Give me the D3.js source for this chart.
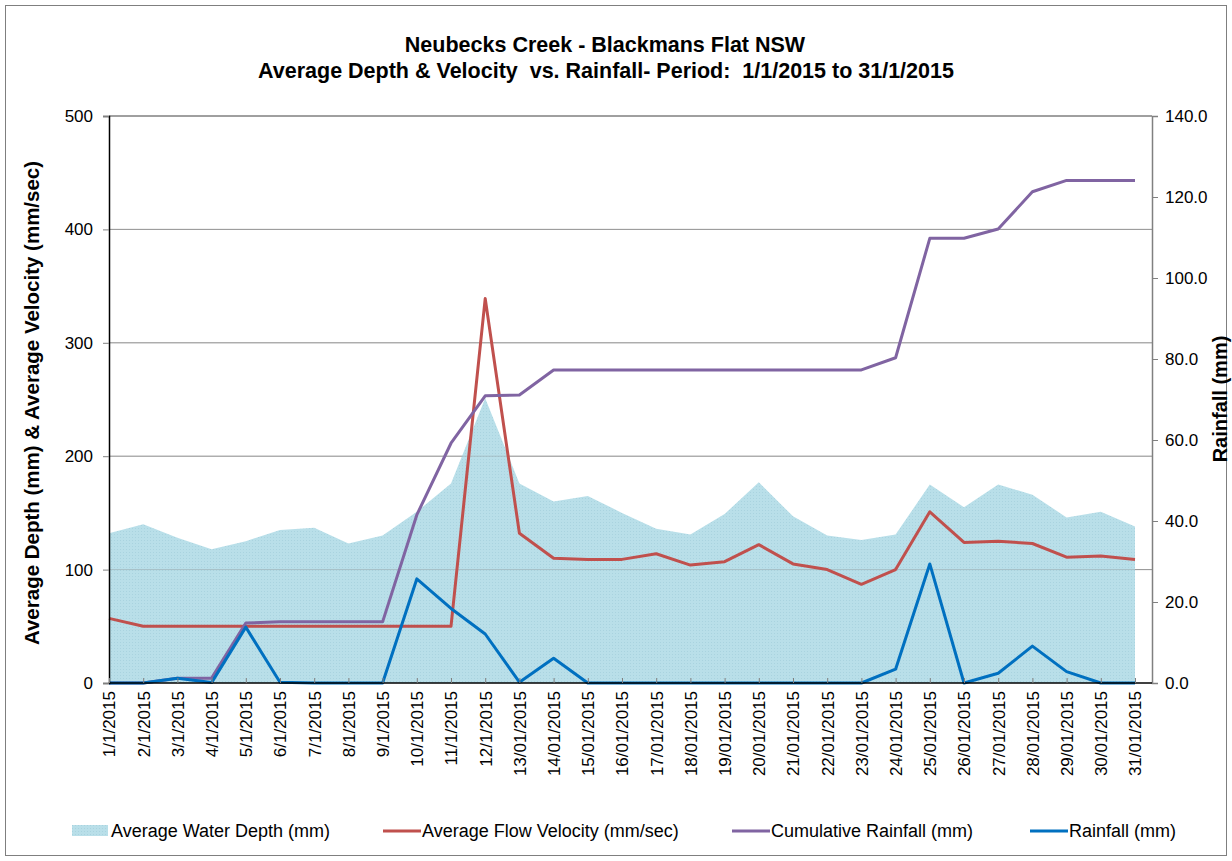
<!DOCTYPE html>
<html>
<head>
<meta charset="utf-8">
<script src="https://cdn.jsdelivr.net/npm/d3@7"></script>
<style>
  body { margin: 0; background: #fff; }
  svg { font-family: "Liberation Sans", Arial, sans-serif; }
</style>
</head>
<body>
<script>
// x labels (dates as written in the chart)
var dates = ["1/1/2015","2/1/2015","3/1/2015","4/1/2015","5/1/2015","6/1/2015","7/1/2015","8/1/2015","9/1/2015","10/1/2015","11/1/2015","12/1/2015",
  "13/01/2015","14/01/2015","15/01/2015","16/01/2015","17/01/2015","18/01/2015","19/01/2015","20/01/2015","21/01/2015","22/01/2015",
  "23/01/2015","24/01/2015","25/01/2015","26/01/2015","27/01/2015","28/01/2015","29/01/2015","30/01/2015","31/01/2015"];

// left axis series
var depth = [132,140,128,118,125,135,137,123,130,151,176,251,176,160,165,150,136,131,149,177,147,130,126,131,175,155,175,166,146,151,138];
var velocity = [57,50,50,50,50,50,50,50,50,50,50,339,132,110,109,109,114,104,107,122,105,100,87,100,151,124,125,123,111,112,109];

// right axis series
var cumRain = [0,0,1.2,1.2,14.8,15.1,15.1,15.1,15.1,41.5,59.2,70.9,71.1,77.3,77.3,77.3,77.3,77.3,77.3,77.3,77.3,77.3,77.3,80.3,109.8,109.8,112.1,121.3,124.1,124.1,124.1];
var rain = [0,0,1.2,0.1,13.8,0.2,0,0,0,25.7,18.4,12.1,0.2,6.1,0,0,0,0,0,0,0,0,0,3.4,29.4,0,2.4,9.1,2.8,0,0];

var leftTicks = [0,100,200,300,400,500];
var rightTicks = [0,20,40,60,80,100,120,140];

var W = 1232, H = 861;
var svg = d3.select("body").append("svg")
  .attr("width", W)
  .attr("height", H);

var plot = {left: 109, right: 1152, top: 116, bottom: 683};

// outer border
svg.append("rect")
  .attr("x", 5.5).attr("y", 5.5)
  .attr("width", W - 11).attr("height", H - 11)
  .attr("fill", "none")
  .attr("stroke", "#7f7f7f");

var x = d3.scalePoint()
  .domain(dates)
  .range([plot.left, 1135]);

var yL = d3.scaleLinear().domain([0, 500]).range([plot.bottom, plot.top]);
var yR = d3.scaleLinear().domain([0, 140]).range([plot.bottom, plot.top]);

// gridlines
svg.append("g")
  .selectAll("line")
  .data(leftTicks.slice(1, -1))
  .enter()
  .append("line")
  .attr("x1", plot.left).attr("x2", plot.right)
  .attr("y1", function(d) { return yL(d); })
  .attr("y2", function(d) { return yL(d); })
  .attr("stroke", "#a0a0a0")
  .attr("stroke-width", 1);

// top border of plot area
svg.append("line")
  .attr("x1", plot.left).attr("x2", plot.right)
  .attr("y1", plot.top).attr("y2", plot.top)
  .attr("stroke", "#404040");

// dotted pattern for area
var defs = svg.append("defs");
var pat = defs.append("pattern")
  .attr("id", "dots")
  .attr("width", 3).attr("height", 3)
  .attr("patternUnits", "userSpaceOnUse");
pat.append("rect").attr("width", 3).attr("height", 3).attr("fill", "#b9dfe9");
pat.append("rect").attr("width", 1).attr("height", 1).attr("fill", "#a9d3df");

// area: average water depth
var area = d3.area()
  .x(function(d, i) { return x(dates[i]); })
  .y0(yL(0))
  .y1(function(d) { return yL(d); });

svg.append("path")
  .datum(depth)
  .attr("d", area)
  .attr("fill", "url(#dots)");

// gridlines slightly visible over area
svg.append("g")
  .selectAll("line")
  .data(leftTicks.slice(1, -1))
  .enter()
  .append("line")
  .attr("x1", plot.left).attr("x2", plot.right)
  .attr("y1", function(d) { return yL(d); })
  .attr("y2", function(d) { return yL(d); })
  .attr("stroke", "#808080")
  .attr("stroke-opacity", 0.35);

// lines
function drawLine(values, scale, color) {
  var line = d3.line()
    .x(function(d, i) { return x(dates[i]); })
    .y(function(d) { return scale(d); });
  svg.append("path")
    .datum(values)
    .attr("d", line)
    .attr("fill", "none")
    .attr("stroke", color)
    .attr("stroke-width", 3)
    .attr("stroke-linejoin", "round");
}

drawLine(velocity, yL, "#c0504d");
drawLine(cumRain, yR, "#8064a2");
drawLine(rain, yR, "#0070c0");

// left axis
var gL = svg.append("g")
  .attr("transform", "translate(" + plot.left + ",0)")
  .call(d3.axisLeft(yL).tickValues(leftTicks).tickSize(6).tickPadding(10));
gL.select(".domain").attr("stroke", "#000").attr("stroke-width", 1.5);
gL.selectAll(".tick line").attr("stroke", "#808080");
gL.selectAll(".tick text")
  .style("font-size", "17px")
  .attr("fill", "#000");

// right axis
var gR = svg.append("g")
  .attr("transform", "translate(" + plot.right + ",0)")
  .call(d3.axisRight(yR).tickValues(rightTicks).tickSize(6).tickPadding(7)
    .tickFormat(d3.format(".1f")));
gR.select(".domain").attr("stroke", "#808080").attr("stroke-width", 1.5);
gR.selectAll(".tick line").attr("stroke", "#808080");
gR.selectAll(".tick text")
  .style("font-size", "17px")
  .attr("fill", "#000");

// bottom axis
var gB = svg.append("g")
  .attr("transform", "translate(0," + plot.bottom + ")")
  .call(d3.axisBottom(x).tickSize(-5).tickSizeOuter(0).tickPadding(0));
gB.select(".domain")
  .attr("d", "M" + plot.left + ",0H" + plot.right)
  .attr("stroke", "#000").attr("stroke-width", 1.5);
gB.selectAll(".tick line").attr("stroke", "#808080");
gB.selectAll(".tick text")
  .style("font-size", "17px")
  .attr("fill", "#000")
  .attr("text-anchor", "end")
  .attr("dy", "0.35em")
  .attr("transform", "translate(0,8) rotate(-90)")
  .attr("y", 0)
  .attr("x", 0);

// titles
svg.append("text")
  .attr("x", 605).attr("y", 52)
  .attr("text-anchor", "middle")
  .style("font-size", "21.5px").style("font-weight", "bold")
  .text("Neubecks Creek - Blackmans Flat NSW");
svg.append("text")
  .attr("x", 606).attr("y", 78)
  .attr("text-anchor", "middle")
  .style("font-size", "21.5px").style("font-weight", "bold")
  .style("white-space", "pre")
  .attr("xml:space", "preserve")
  .text("Average Depth & Velocity  vs. Rainfall- Period:  1/1/2015 to 31/1/2015");

svg.append("text")
  .attr("transform", "translate(39,403) rotate(-90)")
  .attr("text-anchor", "middle")
  .style("font-size", "20.5px").style("font-weight", "bold")
  .text("Average Depth (mm) & Average Velocity (mm/sec)");

svg.append("text")
  .attr("transform", "translate(1227,399) rotate(-90)")
  .attr("text-anchor", "middle")
  .style("font-size", "20px").style("font-weight", "bold")
  .text("Rainfall (mm)");

// legend
var legend = [
  {name: "Average Water Depth (mm)", type: "area", color: "#b9dfe9", x: 72},
  {name: "Average Flow Velocity (mm/sec)", type: "line", color: "#c0504d", x: 383},
  {name: "Cumulative Rainfall (mm)", type: "line", color: "#8064a2", x: 732},
  {name: "Rainfall (mm)", type: "line", color: "#0070c0", x: 1030}
];
var lg = svg.append("g");
legend.forEach(function(d) {
  if (d.type === "area") {
    lg.append("rect")
      .attr("x", d.x).attr("y", 825)
      .attr("width", 36).attr("height", 11)
      .attr("fill", "url(#dots)");
  } else {
    lg.append("line")
      .attr("x1", d.x).attr("x2", d.x + 38)
      .attr("y1", 831).attr("y2", 831)
      .attr("stroke", d.color).attr("stroke-width", 3);
  }
  lg.append("text")
    .attr("x", d.x + 39).attr("y", 837)
    .style("font-size", "18px")
    .text(d.name);
});
</script>
</body>
</html>
